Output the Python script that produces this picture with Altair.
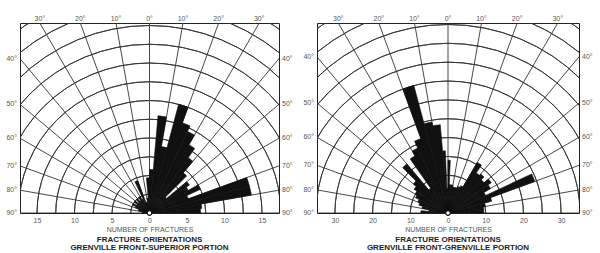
import math
import altair as alt
import pandas as pd

# ---------------- data ----------------
# bin edges in degrees measured clockwise from north (0 = up)
left_bin_start = [-90, -85, -80, -75, -70, -65, -60, -55, -50, -45, -40, -35, -30, -25, -20, -15, -10, -5,
                  0, 5, 10, 15, 20, 25, 30, 35, 40, 45, 50, 55, 60, 65, 70, 75, 80, 85]
left_bin_end = [s + 5 for s in left_bin_start]
left_counts = [1, 1, 1.5, 1.5, 2, 2.5, 2, 2.5, 2, 2.5, 2, 2.5, 2, 4.6, 1.5, 1.5, 2, 4.7,
               5.8, 13, 9, 15, 12.8, 12, 10.5, 9, 7, 3, 6.5, 6, 7.5, 5.5, 13.8, 13.8, 7, 6.8]

right_bin_start = [-90, -85, -80, -75, -70, -65, -60, -55, -50, -45, -40, -35, -30, -25, -20, -15, -10, -5, -2.5,
                   0, 2.5, 5, 10, 15, 20, 25, 30, 35, 40, 45, 50, 55, 60, 65, 70, 75, 80, 85]
right_bin_end = [-85, -80, -75, -70, -65, -60, -55, -50, -45, -40, -35, -30, -25, -20, -15, -10, -5, -2.5, 0,
                 2.5, 5, 10, 15, 20, 25, 30, 35, 40, 45, 50, 55, 60, 65, 70, 75, 80, 85, 90]
right_counts = [7.2, 5, 7, 8, 8.5, 9.5, 10, 11, 12, 17, 8, 17.5, 19, 21, 35, 24.5, 23.5, 16.5, 6.5,
                14, 7.5, 7.5, 7, 7, 7.5, 8, 15.5, 13, 13.5, 12.5, 14, 13, 11, 24.5, 12, 10, 9.5, 9.5]

left_ticks = [-15, -10, -5, 0, 5, 10, 15]
right_ticks = [-30, -20, -10, 0, 10, 20, 30]
left_rings = [2.5 * k for k in range(1, 13)]
right_rings = [5 * k for k in range(1, 13)]
spoke_angles = [-90, -80, -70, -60, -50, -40, -30, -20, -10, 0, 10, 20, 30, 40, 50, 60, 70, 80, 90]
top_label_angles = [-30, -20, -10, 0, 10, 20, 30]
side_label_angles = [40, 50, 60, 70, 80, 90]

left_title = ["FRACTURE ORIENTATIONS", "GRENVILLE FRONT-SUPERIOR PORTION"]
right_title = ["FRACTURE ORIENTATIONS", "GRENVILLE FRONT-GRENVILLE PORTION"]

FONT = "Liberation Sans"
GRID = "#333333"
LABEL = "#555555"
INK = "#111111"


def panel(starts, ends, counts, ticks, rings, px, width, height, title):
    R = width / 2 / px
    ymax = height / px
    xs = alt.Scale(domain=[-R, R], nice=False, zero=False)
    ys = alt.Scale(domain=[0, ymax], nice=False, zero=False)
    rs = alt.Scale(type="linear", domain=[0, 10], range=[0, 10 * px], zero=True)
    ts = alt.Scale(type="linear", domain=[-90, 90], range=[-math.pi / 2, math.pi / 2])
    xaxis = alt.Axis(values=ticks, labelExpr="abs(datum.value)", title="NUMBER OF FRACTURES",
                     ticks=False, domain=False, grid=False, labelFontSize=7, labelColor=LABEL,
                     labelFont=FONT, titleFont=FONT, titleFontSize=7, titleColor=LABEL,
                     titleFontWeight="normal", labelPadding=3, titlePadding=2)
    X = lambda f: alt.X(f, scale=xs, axis=xaxis)
    Y = lambda f: alt.Y(f, scale=ys, axis=None)

    rings_df = pd.DataFrame({"r": rings})
    ring_layer = alt.Chart(rings_df).mark_arc(
        fillOpacity=0, stroke=GRID, strokeWidth=0.9, clip=True
    ).transform_calculate(cx="0", cy="0").encode(
        x=X("cx:Q"), y=Y("cy:Q"),
        theta=alt.value(-math.pi / 2), theta2=alt.value(math.pi / 2),
        radius=alt.Radius("r:Q", scale=rs), radius2=alt.Radius2("r:Q"),
    )

    spokes_df = pd.DataFrame({"a": spoke_angles})
    spoke_layer = alt.Chart(spokes_df).mark_rule(
        color=GRID, strokeWidth=0.9, clip=True
    ).transform_calculate(
        cx="0", cy="0",
        ex=f"{2 * R + ymax}*sin(datum.a*PI/180)",
        ey=f"{2 * R + ymax}*cos(datum.a*PI/180)",
    ).encode(x=X("cx:Q"), y=Y("cy:Q"), x2="ex:Q", y2="ey:Q")

    bars_df = pd.DataFrame({"a0": starts, "a1": ends, "n": counts})
    bar_layer = alt.Chart(bars_df).mark_arc(
        color=INK, stroke=INK, strokeWidth=0.6, clip=True
    ).transform_calculate(cx="0", cy="0").encode(
        x=X("cx:Q"), y=Y("cy:Q"),
        theta=alt.Theta("a0:Q", scale=ts, stack=None), theta2="a1:Q",
        radius=alt.Radius("n:Q", scale=rs),
    )

    hub_layer = alt.Chart(pd.DataFrame({"h": [0]})).mark_point(
        shape="circle", filled=True, fill="white", stroke=INK, strokeWidth=1.2, size=22, opacity=1
    ).transform_calculate(cx="0", cy="0").encode(x=X("cx:Q"), y=Y("cy:Q"))

    top_df = pd.DataFrame({"a": top_label_angles})
    top_layer = alt.Chart(top_df).mark_text(
        baseline="bottom", dy=-1, fontSize=7, font=FONT, color=LABEL
    ).transform_calculate(
        lx=f"{ymax}*tan(datum.a*PI/180)", ly=f"{ymax}",
        t="abs(datum.a) + '°'",
    ).encode(x=X("lx:Q"), y=Y("ly:Q"), text="t:N")

    side_df = pd.DataFrame({"a": side_label_angles})
    side_common = alt.Chart(side_df).transform_calculate(
        ly=f"{R}*cos(datum.a*PI/180)/sin(datum.a*PI/180)",
        t="datum.a + '°'", lxl=f"{-R}", lxr=f"{R}",
    )
    side_left = side_common.mark_text(
        align="right", baseline="middle", dx=-3, fontSize=7, font=FONT, color=LABEL
    ).encode(x=X("lxl:Q"), y=Y("ly:Q"), text="t:N")
    side_right = side_common.mark_text(
        align="left", baseline="middle", dx=3, fontSize=7, font=FONT, color=LABEL
    ).encode(x=X("lxr:Q"), y=Y("ly:Q"), text="t:N")

    return alt.layer(
        ring_layer, spoke_layer, bar_layer, hub_layer, top_layer, side_left, side_right
    ).properties(
        width=width, height=height,
        title=alt.TitleParams(text=title, orient="bottom", anchor="middle", fontSize=8,
                              fontWeight="bold", font=FONT, color="#222222", offset=4,
                              lineHeight=8),
    )


left = panel(left_bin_start, left_bin_end, left_counts, left_ticks, left_rings, 7.5, 259, 190, left_title)
right = panel(right_bin_start, right_bin_end, right_counts, right_ticks, right_rings, 3.77, 262, 190, right_title)

chart = alt.hconcat(left, right, spacing=8).resolve_scale(
    x="independent", y="independent", radius="independent", theta="independent"
).properties(
    padding={"left": 5, "top": 14, "right": 5, "bottom": 0},
    background="white",
).configure_view(stroke="#222222", strokeWidth=1)

chart.save("out.html", embed_options={"renderer": "svg", "actions": False})
